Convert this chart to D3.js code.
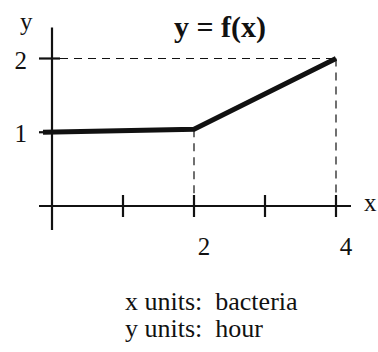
<!DOCTYPE html>
<html>
<head>
<meta charset="utf-8">
<script src="https://cdn.jsdelivr.net/npm/d3@7"></script>
<style>
  html, body { margin: 0; padding: 0; background: #fff; }
  svg { display: block; }
</style>
</head>
<body>
<script>
// Piecewise-linear function f(x)
const fx = [0, 2, 4];
const fy = [1, 1.04, 2];

// Axis ticks and which of them carry a label
const xTicks = [0, 1, 2, 3, 4];
const xTickLabels = [2, 4];
const yTicks = [1, 2];
const yTickLabels = [1, 2];

const title = "y = f(x)";
const unitLines = ["x units:\u00a0\u00a0bacteria", "y units:\u00a0\u00a0hour"];

const W = 378, H = 352;
const serif = "'Liberation Serif', 'DejaVu Serif', 'Times New Roman', serif";
const ink = "#111";

const svg = d3.select("body").append("svg")
  .attr("width", W).attr("height", H)
  .attr("font-family", serif);

const x = d3.scaleLinear().domain([0, 4]).range([52, 336]);
const y = d3.scaleLinear().domain([0, 2]).range([206, 58.5]);

// Dashed guides from the key points to the axes
const guides = svg.append("g")
  .attr("stroke", ink).attr("stroke-width", 1.2).attr("stroke-dasharray", "8,6").attr("fill", "none");
guides.append("line")
  .attr("x1", x(0) + 8).attr("x2", x(4)).attr("y1", y(2)).attr("y2", y(2));
guides.append("line")
  .attr("x1", x(4)).attr("x2", x(4)).attr("y1", y(2)).attr("y2", y(0));
guides.append("line")
  .attr("x1", x(2)).attr("x2", x(2)).attr("y1", y(fy[1])).attr("y2", y(0));

// Axes
const axes = svg.append("g").attr("stroke", ink).attr("stroke-width", 2.2);
axes.append("line")
  .attr("x1", x(0) - 13).attr("x2", x(4) + 15).attr("y1", y(0)).attr("y2", y(0));
axes.append("line")
  .attr("x1", x(0)).attr("x2", x(0)).attr("y1", y(0) + 24).attr("y2", y(2) - 31);

axes.selectAll("line.xt").data(xTicks.filter(d => d > 0)).join("line")
  .attr("class", "xt")
  .attr("x1", d => x(d)).attr("x2", d => x(d))
  .attr("y1", y(0) - 11).attr("y2", y(0) + 11);
axes.selectAll("line.yt").data(yTicks).join("line")
  .attr("class", "yt")
  .attr("x1", x(0) - 13).attr("x2", x(0) + 8)
  .attr("y1", d => y(d)).attr("y2", d => y(d));

// Tick labels
svg.selectAll("text.xl").data(xTickLabels).join("text")
  .attr("class", "xl")
  .attr("x", d => x(d) + 10).attr("y", y(0) + 49)
  .attr("text-anchor", "middle").attr("font-size", 25).attr("fill", ink)
  .text(d => d);
svg.selectAll("text.yl").data(yTickLabels).join("text")
  .attr("class", "yl")
  .attr("x", x(0) - 25).attr("y", d => y(d) + 10)
  .attr("text-anchor", "end").attr("font-size", 25).attr("fill", ink)
  .text(d => d);

// Axis names
svg.append("text").attr("x", 364).attr("y", 211).attr("font-size", 25).attr("fill", ink).text("x");
svg.append("text").attr("x", 20).attr("y", 30).attr("font-size", 25).attr("fill", ink).text("y");

// The function graph
svg.append("path")
  .datum(fx.map((d, i) => [d, fy[i]]))
  .attr("fill", "none").attr("stroke", ink).attr("stroke-width", 5)
  .attr("stroke-linejoin", "miter")
  .attr("d", d3.line().x(d => x(d[0]) - (d[0] === 0 ? 9 : 0)).y(d => y(d[1])));

// Title
svg.append("text")
  .attr("x", 220).attr("y", 37)
  .attr("text-anchor", "middle").attr("font-size", 30).attr("font-weight", "bold").attr("fill", ink)
  .text(title);

// Unit notes
svg.selectAll("text.units").data(unitLines).join("text")
  .attr("class", "units")
  .attr("x", 125).attr("y", (d, i) => 310 + i * 27)
  .attr("font-size", 26).attr("fill", ink)
  .text(d => d);
</script>
</body>
</html>
